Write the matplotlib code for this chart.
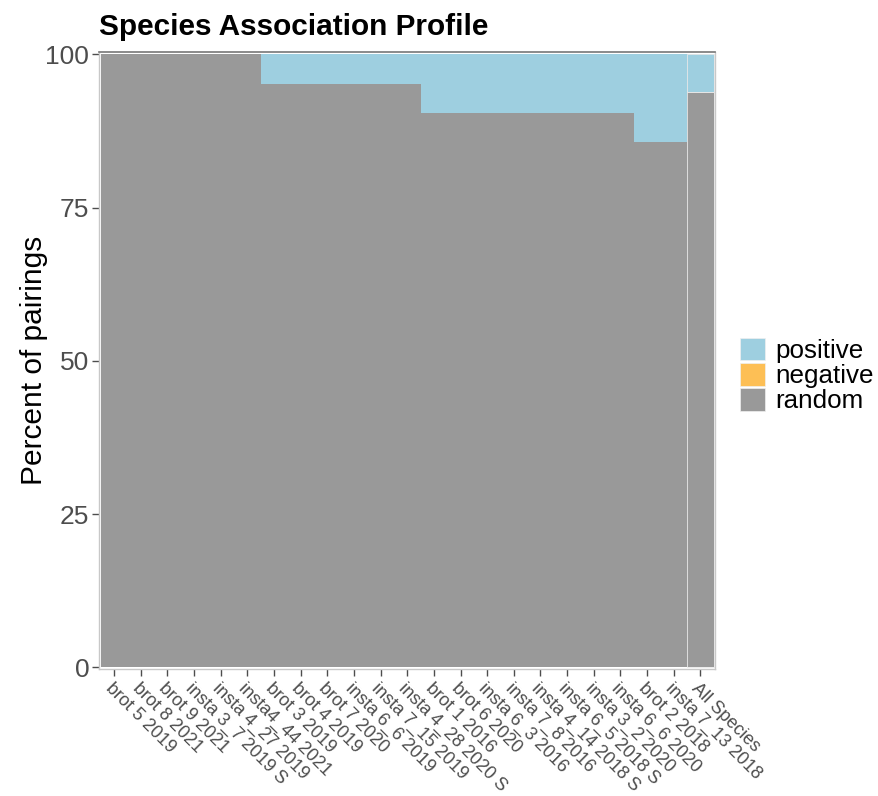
import numpy as np
import matplotlib.pyplot as plt
from matplotlib.patches import Patch

plt.rcParams['font.family'] = ['Liberation Sans', 'DejaVu Sans']

# species pairs per data set
labels = ['brot 5 2019', 'brot 8 2021', 'brot 9 2021', 'insta 3_7 2019 S',
          'insta 4_27 2019', 'insta4_44 2021', 'brot 3 2019', 'brot 4 2019',
          'brot 7 2020', 'insta 6_6 2019', 'insta 7_15 2019', 'insta 4_28 2020 S',
          'brot 1 2016', 'brot 6 2020', 'insta 6_3 2016', 'insta 7_8 2016',
          'insta 4_14 2018 S', 'insta 6_5 2018 S', 'insta 3_2 2020',
          'insta 6_6 2020', 'brot 2 2018', 'insta 7_13 2018', 'All Species']
random_pct = [100, 100, 100, 100, 100, 100,
              95.2, 95.2, 95.2, 95.2, 95.2, 95.2,
              90.5, 90.5, 90.5, 90.5, 90.5, 90.5, 90.5, 90.5,
              85.7, 85.7, 93.8]
negative_pct = [0] * 23
positive_pct = [100 - r - n for r, n in zip(random_pct, negative_pct)]

col_pos = '#9ECFE0'
col_neg = '#FDBF55'
col_ran = '#999999'

fig = plt.figure(figsize=(8.79, 7.96), dpi=100)
ax = fig.add_axes([0.1126, 0.1595, 0.7008, 0.7752])

x = np.arange(len(labels))
ax.bar(x, random_pct, width=1.0, color=col_ran, linewidth=0)
ax.bar(x, negative_pct, width=1.0, bottom=random_pct, color=col_neg, linewidth=0)
ax.bar(x, positive_pct, width=1.0,
       bottom=[r + n for r, n in zip(random_pct, negative_pct)],
       color=col_pos, linewidth=0)
# thin outline around the pooled bar
ax.bar(x[-1], random_pct[-1], width=1.0, color='none', edgecolor='#e8e8e8', linewidth=0.6)
ax.bar(x[-1], positive_pct[-1], bottom=random_pct[-1], width=1.0, color='none',
       edgecolor='#e8e8e8', linewidth=0.6)

ax.set_xlim(-0.57, len(labels) - 0.45)
ax.set_ylim(-0.3, 100.4)
ax.set_yticks([0, 25, 50, 75, 100])
ax.set_xticks(x)
ax.set_xticklabels(labels, rotation=-45, ha='left', va='top', rotation_mode='anchor',
                   fontsize=13, color='#4D4D4D')
ax.tick_params(axis='y', labelsize=19, colors='#4D4D4D', length=5, width=1, pad=2)
ax.tick_params(axis='x', length=5, width=1, colors='#4D4D4D', pad=3)

for side in ['left', 'right', 'bottom']:
    ax.spines[side].set_color('#c8c8c8')
    ax.spines[side].set_linewidth(1)
ax.spines['top'].set_color('#777777')
ax.spines['top'].set_linewidth(1.2)

ax.set_ylabel('Percent of pairings', fontsize=21.5, color='black', va='center')
ax.yaxis.set_label_coords(-0.105, 0.5)
ax.set_title('Species Association Profile', fontsize=21.4, fontweight='bold',
             loc='left', x=0.0, pad=12)

handles = [Patch(facecolor=c, edgecolor='#f0f0f0', linewidth=0.5)
           for c in [col_pos, col_neg, col_ran]]
fig.legend(handles, ['positive', 'negative', 'random'], loc='center left',
           bbox_to_anchor=(0.842, 0.528), frameon=False, fontsize=18.7,
           handlelength=0.95, handleheight=0.95, handletextpad=0.4,
           labelspacing=0.0, borderpad=0, borderaxespad=0)

fig.savefig('out.png', dpi=100)
